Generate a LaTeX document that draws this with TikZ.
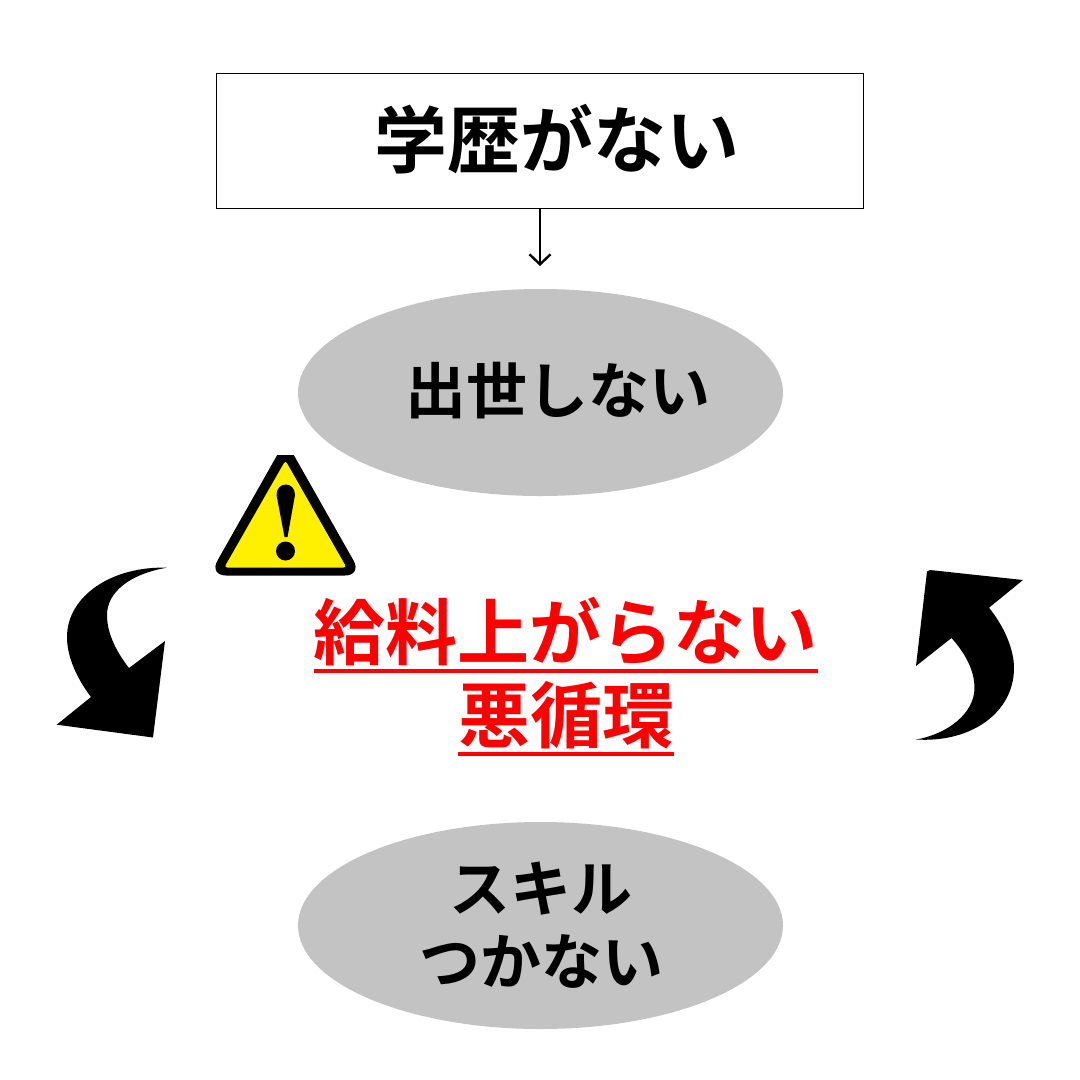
\documentclass[tikz,border=0pt]{standalone}
\usepackage{fontspec}
\setmainfont{Noto Sans CJK JP}[BoldFont={Noto Sans CJK JP Bold}]
\usetikzlibrary{arrows.meta,shapes.geometric}
\definecolor{ell}{HTML}{C3C3C3}
\definecolor{warn}{HTML}{FFF000}
\tikzset{
 x=1pt,y=-1pt,
 lbl/.style={inner sep=0pt,align=center,font=\bfseries},
 oval/.style={ellipse,fill=ell,draw=none,minimum width=485pt,minimum height=207pt,inner sep=0pt},
 big/.style={font=\fontsize{73pt}{84pt}\selectfont\bfseries},
 mid/.style={font=\fontsize{61pt}{73pt}\selectfont\bfseries},
 red text/.style={text=red,font=\fontsize{72pt}{84pt}\selectfont\bfseries,inner sep=0pt},
 uline/.style={draw=red,line width=4pt},
 solidblack/.style={fill=black,draw=none},
}
\begin{document}
\begin{tikzpicture}
\useasboundingbox (0,0) rectangle (1080,1080);
\node[draw=black,line width=1pt,minimum width=647pt,minimum height=135pt,inner sep=0pt,big] (top) at (540,140.5) {};
\node[lbl,big] (toptxt) at (557,139) {学歴がない};
\coordinate (tipend) at (540,266);
\draw[line width=2.4pt,-{Straight Barb[length=10pt,width=21pt,line width=2.4pt]}] (top.south) -- (tipend);
\node[oval] (e1) at (540.5,392.5) {};
\node[lbl,mid] (e1txt) at (558,391) {出世しない};
\node[oval] (e2) at (540.5,925.5) {};
\node[lbl,mid] (e2txt) at (541,925) {スキル\\つかない};
\node[red text] (r1) at (565,632) {給料上がらない};
\node[red text] (r2) at (566,715) {悪循環};
\draw[uline] (314,670.5) -- (818,670.5);
\draw[uline] (458,754) -- (674,754);
% warning sign
\fill[black,rounded corners=17pt] (285.5,440.4) -- (362,575.5) -- (209,575.5) -- cycle;
\fill[white] (270,440) rectangle (300,454.5);
\fill[warn,rounded corners=3pt] (285.4,460.5) -- (346.5,567.5) -- (224.3,567.5) -- cycle;
\fill[black] (276.5,495) .. controls (276.5,481) and (295,481) .. (295,495) -- (287.5,537) -- (284.5,537) -- cycle;
\fill[black] (285.5,551) circle (9.5);
% left arrow
\fill[solidblack] (166.7,567.7) .. controls (112,566) and (67,596) .. (67,637)
 .. controls (67,658) and (78,680) .. (91,697) -- (56.7,724.7) -- (153,737.5) -- (165,641) -- (129,668)
 .. controls (115,650) and (107,632) .. (107,615) .. controls (107,592) and (130,574) .. (166.7,567.7) -- cycle;
% right arrow
\fill[solidblack] (916,739.5) .. controls (972,743) and (1014,712) .. (1014,668)
 .. controls (1014,648) and (1003,625) .. (989,607.7) -- (1023,580) -- (930,570) -- (927,571.5) -- (916,666) -- (951.5,638)
 .. controls (965,653) and (974.5,670) .. (974.5,688) .. controls (974.5,713) and (948,734) .. (916,739.5) -- cycle;
\end{tikzpicture}
\end{document}
